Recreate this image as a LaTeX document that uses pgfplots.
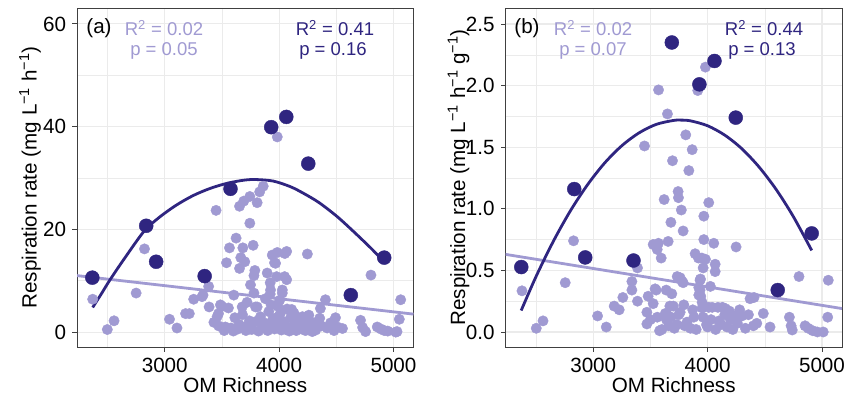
\documentclass[border=0pt]{standalone}
\usepackage{fontspec}
\setmainfont{Liberation Sans}
\usepackage{pgfplots}
\pgfplotsset{compat=1.18}
\definecolor{lightp}{RGB}{160,154,210}
\definecolor{darkp}{RGB}{47,37,128}
\definecolor{gridc}{RGB}{235,235,235}
\newcommand\fs{\fontsize{20.7}{24}\selectfont}
\newcommand\fst{\fontsize{18.6}{21}\selectfont}
\pgfplotsset{
  panel/.style={
    scale only axis, width=336.5bp, height=339bp, anchor=south west,
    xmin=2233, xmax=5175,
    xtick={3000,4000,5000}, minor xtick={2500,3500,4500},
    grid=both,
    major grid style={gridc, line width=1.1bp},
    minor grid style={gridc, line width=0.6bp},
    axis line style={black!75, line width=0.9bp},
    tick style={black!75, line width=0.9bp},
    major tick length=4.5bp, minor tick length=0bp,
    tick align=outside, xtick pos=bottom, ytick pos=left,
    tick label style={font=\fs, black},
    /pgf/number format/assume math mode=true,
    /pgf/number format/1000 sep={},
    scaled ticks=false,
    xlabel={OM Richness},
    every axis x label/.style={at={(axis description cs:0.5,0)}, yshift=-38bp, anchor=center, font=\fs},
    every axis y label/.style={at={(axis description cs:0,0.5)}, xshift=-47bp, rotate=90, anchor=center, font=\fs},
    xticklabel style={yshift=-3bp},
    yticklabel style={xshift=-3bp},
  },
  lpts/.style={only marks, mark=*, lightp, mark size=5.2bp, mark options={lightp}},
  dpts/.style={only marks, mark=*, darkp, mark size=7bp, mark options={darkp}},
  lline/.style={no marks, lightp, line width=2.8bp},
  dline/.style={no marks, darkp, line width=2.8bp, smooth},
}
\begin{document}
\begin{tikzpicture}[x=1bp,y=1bp]
\useasboundingbox (0bp,0bp) rectangle (845bp,399bp);
% ---------------- panel (a)
\begin{axis}[panel, at={(77bp,52bp)}, ymin=-2.9, ymax=63.1,
  ytick={0,20,40,60}, minor ytick={10,30,50},
  ylabel={Respiration rate (mg L\textsuperscript{−1} h\textsuperscript{−1})}]
\addplot[lpts] table {
2370 6.4
2498 0.5
2557 2.2
2750 7.6
2823 16.2
3042 2.5
3107 0.8
3182 3.6
3215 3.6
3253 6.4
3326 6.9
3335 7.2
3384 8.9
3388 4.9
3430 1.9
3449 23.7
3458 3.0
3470 3.6
3472 1.2
3487 5.3
3500 5.0
3520 0.3
3530 1.0
3540 13.5
3557 4.7
3566 16.4
3580 0.8
3600 0.2
3604 7.2
3613 2.8
3624 18.3
3640 0.6
3650 1.5
3654 24.5
3654 12.4
3665 14.5
3677 4.9
3680 3.4
3683 16.4
3691 25.5
3700 13.7
3700 1.0
3710 0.3
3720 5.8
3740 2.2
3744 26.4
3744 21.2
3750 9.2
3760 0.5
3773 16.9
3780 11.0
3780 7.6
3788 12.0
3790 2.0
3794 4.9
3808 25.2
3808 4.9
3820 0.2
3830 27.3
3837 3.0
3850 0.8
3861 28.4
3870 1.8
3880 6.5
3890 1.5
3896 11.5
3900 0.3
3910 4.0
3922 9.6
3925 8.2
3922 7.4
3930 5.3
3940 15.0
3945 2.5
3950 0.9
3984 38.0
3960 13.5
3960 0.6
3969 13.4
3975 2.8
3978 10.8
3984 15.5
3990 5.0
4000 1.4
4005 6.2
4010 3.6
4020 0.4
4028 8.2
4028 7.6
4040 2.0
4048 10.8
4050 15.3
4060 0.5
4066 15.7
4066 10.2
4070 4.5
4080 1.0
4090 0.2
4100 2.8
4110 4.4
4115 0.7
4130 3.7
4140 1.5
4150 0.3
4160 1.0
4170 2.4
4185 0.9
4200 0.6
4204 3.0
4215 1.5
4230 0.3
4247 15.2
4250 2.2
4260 3.3
4270 0.7
4290 0.1
4300 1.8
4320 0.4
4340 1.5
4355 2.7
4361 4.6
4370 1.2
4405 6.3
4420 0.8
4450 1.8
4480 0.3
4493 2.8
4510 1.0
4554 0.7
4712 2.3
4730 0.9
4756 0.1
4803 11.1
4858 1.0
4890 0.6
4920 0.3
4950 0.2
5020 0.0
5031 0.1
5051 2.5
5063 6.3
};
\addplot[dpts] table {
2367 10.6
2838 20.7
2925 13.7
3349 10.9
3575 27.9
3931 39.9
4063 41.9
4255 32.8
4627 7.2
4919 14.5
};
\addplot[lline] table {
2233 11.0
5175 3.5
};
\addplot[dline] table {
2370 4.8
2450 7.6
2525 10.3
2650 14.4
2818 19.6
2950 22.3
3100 24.7
3250 26.6
3400 28.0
3550 29.0
3700 29.6
3800 29.7
3950 29.4
4100 28.3
4215 27.0
4350 25.2
4507 22.5
4650 19.6
4800 16.4
4905 14.0
};
\end{axis}
% ---------------- panel (b)
\begin{axis}[panel, at={(505.5bp,52bp)}, ymin=-0.122, ymax=2.63,
  ytick={0,0.5,1,1.5,2,2.5}, minor ytick={0.25,0.75,1.25,1.75,2.25},
  yticklabel style={/pgf/number format/.cd, fixed, fixed zerofill, precision=1},
  ylabel={Respiration rate (mg L\textsuperscript{−1} h\textsuperscript{−1} g\textsuperscript{−1})}]
\addplot[lpts] table {
2377 0.334
2502 0.03
2561 0.09
2755 0.40
2828 0.74
3038 0.13
3114 0.04
3183 0.21
3227 0.18
3259 0.28
3338 0.34
3338 0.41
3387 0.52
3387 0.25
3448 1.51
3469 0.16
3469 0.065
3480 0.29
3500 0.10
3524 0.23
3524 0.71
3541 0.35
3550 0.34
3559 0.67
3560 0.12
3570 0.72
3571 1.965
3580 0.01
3594 0.60
3600 0.02
3620 1.075
3630 0.15
3638 0.34
3640 0.10
3646 0.14
3649 1.77
3655 0.735
3660 0.05
3670 0.21
3679 0.89
3680 0.12
3687 0.31
3693 1.39
3700 0.21
3710 0.03
3730 0.06
3734 0.45
3742 1.14
3745 1.09
3748 0.14
3760 0.44
3760 0.16
3770 0.99
3777 0.41
3786 0.82
3786 0.40
3792 0.22
3800 0.05
3809 1.60
3820 0.08
3836 1.31
3850 0.03
3865 1.48
3870 0.18
3880 0.12
3891 0.635
3900 0.02
3914 1.96
3920 0.60
3923 0.36
3923 0.30
3934 0.42
3934 0.34
3937 0.43
3940 0.29
3950 0.60
3952 0.24
3952 0.195
3960 0.12
3961 0.52
3967 0.94
3967 0.75
3981 2.15
3981 0.59
3990 0.06
4000 0.04
4010 1.05
4010 0.20
4024 0.37
4030 0.10
4040 0.20
4054 0.72
4066 0.55
4066 0.49
4070 0.02
4090 0.20
4100 0.09
4120 0.06
4130 0.20
4150 0.14
4155 0.19
4170 0.04
4190 0.17
4200 0.10
4220 0.02
4240 0.13
4249 0.69
4260 0.07
4280 0.18
4300 0.13
4330 0.03
4357 0.14
4371 0.27
4400 0.05
4406 0.28
4430 0.07
4487 0.15
4546 0.04
4715 0.12
4730 0.05
4740 0.016
4799 0.45
4852 0.05
4880 0.03
4920 0.01
4960 0.00
5011 0.00
5050 0.12
5055 0.42
};
\addplot[dpts] table {
2371 0.527
2834 1.16
2930 0.605
3352 0.58
3687 2.35
3928 2.01
4060 2.20
4246 1.74
4613 0.34
4910 0.80
};
\addplot[lline] table {
2233 0.63
5175 0.19
};
\addplot[dline] table {
2370 0.174
2500 0.450
2650 0.734
2800 0.983
2950 1.195
3100 1.372
3250 1.512
3400 1.616
3550 1.685
3700 1.717
3760 1.720
3850 1.714
4000 1.674
4150 1.598
4300 1.487
4450 1.339
4600 1.156
4750 0.936
4910 0.662
};
\end{axis}
% ---------------- annotations
\node[font=\fs, anchor=center] at (99bp,371bp) {(a)};
\node[font=\fst, text=lightp] at (164bp,371bp) {R\textsuperscript{2} = 0.02};
\node[font=\fst, text=lightp] at (164bp,348bp) {p = 0.05};
\node[font=\fst, text=darkp] at (335bp,371bp) {R\textsuperscript{2} = 0.41};
\node[font=\fst, text=darkp] at (333bp,348bp) {p = 0.16};
\node[font=\fs, anchor=center] at (527bp,371bp) {(b)};
\node[font=\fst, text=lightp] at (593bp,371bp) {R\textsuperscript{2} = 0.02};
\node[font=\fst, text=lightp] at (593bp,348bp) {p = 0.07};
\node[font=\fst, text=darkp] at (764bp,371bp) {R\textsuperscript{2} = 0.44};
\node[font=\fst, text=darkp] at (762bp,348bp) {p = 0.13};
\end{tikzpicture}
\end{document}
